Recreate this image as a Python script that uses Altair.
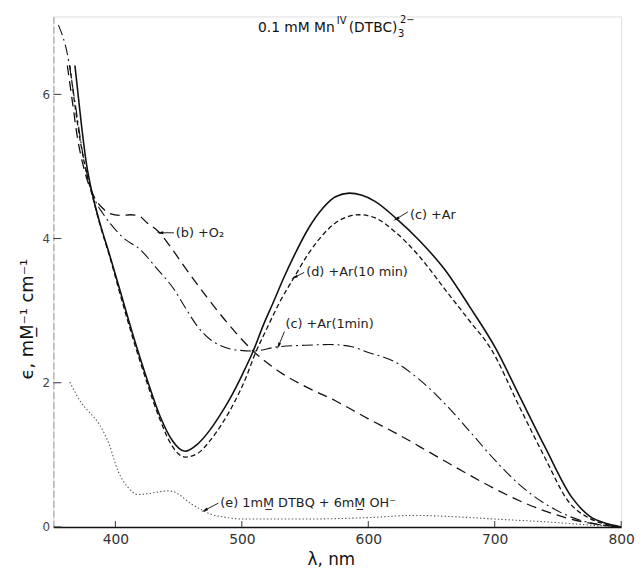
import altair as alt
import pandas as pd

# ---------------- data ----------------
# (c) +Ar  (solid)
c_nm  = [368, 373, 377, 382, 388, 395, 405, 415, 425, 435, 445, 455, 465, 475, 482, 490.6,
         500, 509, 517, 525, 533, 541, 553, 564, 574, 585, 595, 605, 622, 640, 660, 680, 701, 720,
         740, 761, 775, 790, 800]
c_eps = [6.4, 5.6, 5.05, 4.6, 4.2, 3.8, 3.2, 2.6, 2.05, 1.55, 1.2, 1.05, 1.15, 1.35, 1.53, 1.78,
         2.1, 2.44, 2.8, 3.12, 3.45, 3.75, 4.15, 4.42, 4.58, 4.63, 4.6, 4.52, 4.28, 3.98, 3.58, 3.06, 2.47, 1.8,
         1.1, 0.41, 0.15, 0.04, 0.0]
# (d) +Ar (10 min)  (short dashes)
d_nm  = [364, 370, 376, 382, 388, 395, 405, 415, 425, 435, 445, 455, 465, 475, 485, 495, 503,
         510, 520, 530, 541.6, 553, 565, 575, 585, 593, 605, 622, 640, 660, 680, 697, 720, 740,
         758, 775, 790, 800]
d_eps = [6.4, 5.6, 5.0, 4.58, 4.18, 3.78, 3.15, 2.55, 2.0, 1.5, 1.12, 0.97, 1.02, 1.2, 1.45, 1.76, 2.06,
         2.38, 2.76, 3.12, 3.47, 3.8, 4.07, 4.23, 4.31, 4.33, 4.29, 4.08, 3.76, 3.31, 2.86, 2.47, 1.65, 0.95,
         0.36, 0.12, 0.03, 0.0]
# (b) +O2  (long dashes)
b_nm  = [362, 366, 370, 375, 382, 390, 395, 405, 412, 418, 425, 435, 445, 455, 471, 490, 509,
         530, 550, 574, 600, 625, 650, 675, 700, 720, 740, 760, 780, 800]
b_eps = [6.4, 5.9, 5.4, 4.98, 4.62, 4.42, 4.35, 4.32, 4.33, 4.32, 4.22, 4.08, 3.85, 3.6, 3.22, 2.8, 2.44,
         2.15, 1.95, 1.75, 1.5, 1.27, 1.02, 0.77, 0.53, 0.36, 0.22, 0.11, 0.04, 0.0]
# (c) +Ar (1 min)  (dash-dot)
cp_nm  = [355, 362, 368, 375, 382, 390, 395, 405, 420, 433, 446.6, 455, 465, 475, 487, 498, 509,
          529, 550, 570, 587, 600, 620, 640, 660, 680, 700, 720, 740, 760, 780, 800]
cp_eps = [6.96, 6.56, 5.9, 5.1, 4.62, 4.35, 4.23, 4.03, 3.84, 3.58, 3.29, 3.05, 2.78, 2.6, 2.49, 2.45, 2.44,
          2.5, 2.52, 2.53, 2.5, 2.42, 2.3, 2.05, 1.72, 1.33, 0.93, 0.58, 0.32, 0.14, 0.04, 0.0]
# (e) 1mM DTBQ + 6mM OH-  (dotted)
e_nm  = [364, 373.5, 380, 386.7, 395, 402, 410, 418, 425, 432, 441, 446, 451, 460, 467, 475, 485,
         501.5, 550, 600, 636, 670, 700, 750, 780, 800]
e_eps = [2.01, 1.71, 1.58, 1.44, 1.15, 0.78, 0.55, 0.45, 0.46, 0.48, 0.5, 0.49, 0.44, 0.32, 0.25, 0.18, 0.14,
         0.11, 0.11, 0.13, 0.16, 0.14, 0.11, 0.06, 0.02, 0.0]

x_ticks = [400, 500, 600, 700, 800]
y_ticks = [0, 2, 4, 6]

# annotations (data units)
ann_text = ["(b) +O\u2082", "(d) +Ar(10 min)", "(c) +Ar(1min)", "(c) +Ar",
            "(e) 1mM\u0332 DTBQ + 6mM\u0332 OH\u207b"]
ann_x    = [447.8, 550.9, 534.5, 632.9, 483.0]
ann_y    = [4.08, 3.53, 2.81, 4.33, 0.33]
arr_tail_x = [446.3, 549.3, 533.7, 631.3, 481.4]
arr_tail_y = [4.08, 3.53, 2.71, 4.37, 0.33]
arr_tip_x  = [435.3, 541.5, 529.0, 622.0, 470.5]
arr_tip_y  = [4.08, 3.46, 2.51, 4.27, 0.23]
arr_angle  = [270, 243, 202, 240, 243]

# title pieces: 0.1 mM Mn^IV(DTBC)_3^2-
title_main_text = ["0.1 mM Mn"]
title_main_x = [573.5]
title_main_y = [6.92]
title_parts_text = ["IV", "(DTBC)", "3", "2\u2212"]
title_parts_x = [575.1, 584.5, 623.5, 625.1]
title_parts_y = [7.01, 6.92, 6.83, 7.03]
title_parts_fs = [10, 14, 10, 10]

# ---------------- chart ----------------
FONT = "DejaVu Sans"
xs = alt.Scale(domain=[351, 800], nice=False, zero=False)
ys = alt.Scale(domain=[0, 7.08], nice=False, zero=True)

x_axis = alt.Axis(values=x_ticks, ticks=False, tickSize=0, labelPadding=6, labelFlush=False,
                  labelFont=FONT, labelFontSize=14, labelColor="#333", grid=False,
                  domainColor="#111", domainWidth=1.4,
                  title="\u03bb,  nm", titleFont=FONT, titleFontSize=17, titleFontWeight="normal",
                  titleColor="#111", titleX=281, titleY=33, titleBaseline="middle")
y_axis = alt.Axis(values=y_ticks, ticks=False, tickSize=0, labelPadding=4, labelFlush=False,
                  labelFont=FONT, labelFontSize=12, labelColor="#444", grid=False,
                  domainColor="#999", domainWidth=1, domainDash=[7, 3],
                  title="\u03f5,  mM\u0332\u207b\u00b9  cm\u207b\u00b9", titleFont=FONT, titleFontSize=18,
                  titleFontWeight="normal", titleColor="#111", titleX=-26, titleY=306,
                  titleAngle=270, titleAlign="center", titleBaseline="middle")


def X(f="nm"):
    return alt.X(f"{f}:Q", scale=xs, axis=x_axis)


def Y(f="eps"):
    return alt.Y(f"{f}:Q", scale=ys, axis=y_axis)


def line(nm, eps, dash, width, color):
    df = pd.DataFrame({"nm": nm, "eps": eps})
    kw = dict(color=color, strokeWidth=width, clip=True, interpolate="monotone")
    if dash:
        kw["strokeDash"] = dash
    return alt.Chart(df).mark_line(**kw).encode(x=X(), y=Y())


layers = [
    line(e_nm, e_eps, [1.4, 2.2], 1.1, "#555"),
    line(b_nm, b_eps, [10, 6], 1.3, "#111"),
    line(cp_nm, cp_eps, [11, 4, 2, 4], 1.1, "#111"),
    line(d_nm, d_eps, [5, 3], 1.3, "#111"),
    line(c_nm, c_eps, None, 1.6, "#111"),
]

# inward tick marks
xt = alt.Chart(pd.DataFrame({"nm": x_ticks})).mark_rule(color="#333", strokeWidth=1).encode(
    x=X(), y=alt.value(517), y2=alt.value(511))
yt = alt.Chart(pd.DataFrame({"eps": y_ticks})).mark_rule(color="#333", strokeWidth=1).encode(
    y=Y(), x=alt.value(0), x2=alt.value(8))

# annotations
ann_df = pd.DataFrame({"nm": ann_x, "eps": ann_y, "t": ann_text})
ann = alt.Chart(ann_df).mark_text(align="left", baseline="middle", font=FONT, fontSize=13,
                                  color="#222").encode(x=X(), y=Y(), text="t:N")
arr_df = pd.DataFrame({"nm": arr_tail_x, "eps": arr_tail_y, "nm2": arr_tip_x, "eps2": arr_tip_y})
shafts = alt.Chart(arr_df).mark_rule(color="#222", strokeWidth=1).encode(
    x=X(), y=Y(), x2="nm2:Q", y2="eps2:Q")
head_df = pd.DataFrame({"nm": arr_tip_x, "eps": arr_tip_y, "a": arr_angle})
heads = alt.Chart(head_df).mark_point(shape="M0,-1L0.45,1L-0.45,1Z", filled=True, size=45,
                                      color="#111", opacity=1).encode(
    x=X(), y=Y(), angle=alt.Angle("a:Q", scale=None))

# title
tm = alt.Chart(pd.DataFrame({"nm": title_main_x, "eps": title_main_y, "t": title_main_text})).mark_text(
    align="right", baseline="middle", font=FONT, fontSize=14, color="#111").encode(x=X(), y=Y(), text="t:N")
tp = alt.Chart(pd.DataFrame({"nm": title_parts_x, "eps": title_parts_y, "t": title_parts_text,
                             "fs": title_parts_fs})).mark_text(
    align="left", baseline="middle", font=FONT, color="#111").encode(
    x=X(), y=Y(), text="t:N", size=alt.Size("fs:Q", scale=None, legend=None))

chart = alt.layer(*layers, xt, yt, shafts, heads, ann, tm, tp).properties(
    width=575, height=517,
    autosize=alt.AutoSizeParams(type="none"),
    padding={"left": 46, "top": 5, "right": 15, "bottom": 40},
).configure_view(stroke="#888", strokeWidth=1).configure(background="white")

chart.save("out.html", embed_options={"renderer": "svg", "actions": False})
